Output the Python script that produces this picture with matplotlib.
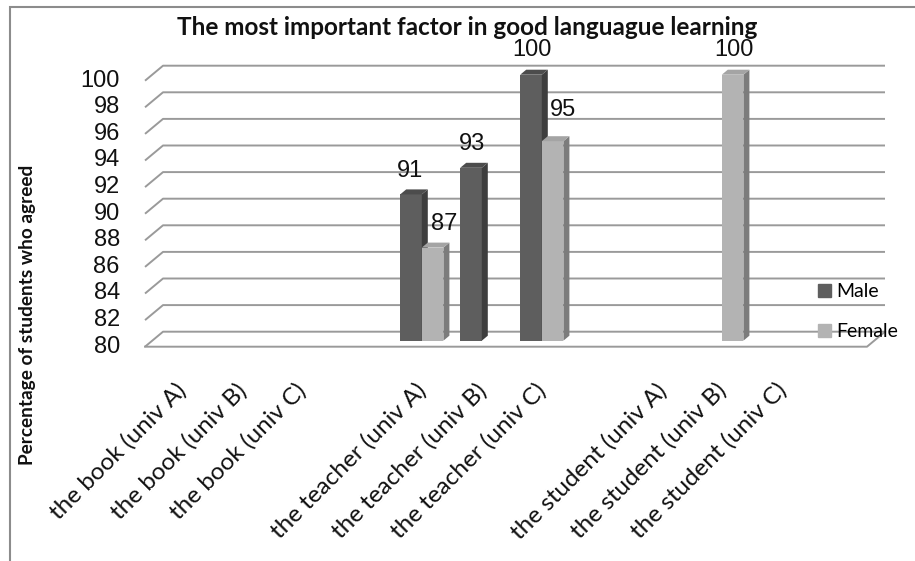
import numpy as np
import matplotlib
matplotlib.use("Agg")
import matplotlib.pyplot as plt
from matplotlib.patches import Polygon, Patch, Rectangle

# data
categories = ["the book (univ A)", "the book (univ B)", "the book (univ C)", "",
              "the teacher (univ A)", "the teacher (univ B)", "the teacher (univ C)", "",
              "the student (univ A)", "the student (univ B)", "the student (univ C)"]
male = [np.nan, np.nan, np.nan, np.nan, 91, 93, 100, np.nan, np.nan, np.nan, np.nan]
female = [np.nan, np.nan, np.nan, np.nan, 87, np.nan, 95, np.nan, np.nan, 100, np.nan]
yticks = list(range(80, 101, 2))
title = "The most important factor in good languague learning"
ylabel = "Percentage of students who agreed"

# label offsets (pixels) from the bar top, Excel style placement
male_lbl_off = {4: (-1, 23), 5: (1, 24), 6: (1, 25)}
female_lbl_off = {4: (12, 24), 6: (10, 31), 9: (1, 25)}

MALE = ("#5e5e5e", "#3e3e3e", "#4c4c4c")     # front, side, top
FEMALE = ("#b3b3b3", "#7c7c7c", "#a4a4a4")
GRID = "#9a9a9a"

fig = plt.figure(figsize=(9.15, 5.61), dpi=100)
ax = fig.add_axes([0, 0, 1, 1])
# 1 category = 60 px, 1 unit = 13.3 px
ax.set_xlim(-3.0, 12.25)
ax.set_ylim(100 - (561 - 74.7) / 13.3, 100 + 74.7 / 13.3)
ax.axis("off")

vmin, vmax = 80, 100
bx, bv = 0.18, 0.677      # back wall shift
fx, fv = -0.12, -0.451    # front edge shift
x_left, x_right = -0.463, 11.57

# walls / gridlines
for v in yticks:
    ax.plot([x_left + fx, x_left + bx, x_right + bx],
            [v + fv, v + bv, v + bv], color=GRID, lw=1.4, zorder=1,
            solid_capstyle="butt")
    ax.text(x_left - 0.54, v + fv, str(v), ha="right", va="center",
            fontsize=17, family="Liberation Sans", color="#111111")
# floor front edge
ax.plot([x_left + fx, x_right + fx, x_right + bx],
        [vmin + fv, vmin + fv, vmin + bv], color=GRID, lw=1.4, zorder=1)

# 3d bars
dx, dv = 0.1, 0.376
w = 0.36


def draw_bars(values, lefts, cols, z):
    fronts = ax.bar(lefts, np.array(values) - vmin, bottom=vmin, width=w,
                    align="edge", color=cols[0], zorder=z, linewidth=0)
    for rect, v in zip(fronts, values):
        if np.isnan(v):
            continue
        l = rect.get_x()
        r = l + rect.get_width()
        ax.add_patch(Polygon([(r, vmin), (r + dx, vmin + dv), (r + dx, v + dv), (r, v)],
                             closed=True, color=cols[1], zorder=z, lw=0))
        ax.add_patch(Polygon([(l, v), (r, v), (r + dx, v + dv), (l + dx, v + dv)],
                             closed=True, color=cols[2], zorder=z, lw=0))
    return fronts


idx = np.arange(len(categories))
draw_bars(male, idx - 0.33, MALE, 3)
draw_bars(female, idx + 0.03, FEMALE, 4)

# value labels
for i, (ox, oy) in male_lbl_off.items():
    ax.annotate(f"{male[i]:g}", (i - 0.33 + w / 2, male[i]), xytext=(ox * 0.72, oy * 0.72),
                textcoords="offset points", ha="center", va="center",
                fontsize=17, family="Liberation Sans", color="#111111", zorder=6)
for i, (ox, oy) in female_lbl_off.items():
    ax.annotate(f"{female[i]:g}", (i + 0.03 + w / 2, female[i]), xytext=(ox * 0.72, oy * 0.72),
                textcoords="offset points", ha="center", va="center",
                fontsize=17, family="Liberation Sans", color="#111111", zorder=6)

# category labels
for i, lab in enumerate(categories):
    if lab:
        ax.text(i - 0.08, 77.1, lab, rotation=45, rotation_mode="anchor",
                ha="right", va="top", fontsize=17.5, family="Lato", color="#111111")

# legend
handles = [Patch(color=MALE[0], label="Male"), Patch(color=FEMALE[0], label="Female")]
ax.legend(handles=handles, loc="upper left", bbox_to_anchor=(818 / 915, 1 - 283 / 561),
          frameon=False, prop={"family": "Lato", "size": 14}, handlelength=0.65,
          handleheight=0.65, handletextpad=0.3, labelspacing=1.2, borderpad=0,
          borderaxespad=0)

fig.text(467 / 915, 1 - 35 / 561, title, ha="center", va="baseline",
         fontsize=17.5, fontweight="bold", family="Lato", color="#111111")
fig.text(28 / 915, 1 - 315 / 561, ylabel, rotation=90, ha="center", va="center",
         fontsize=13.7, fontweight="bold", family="Lato", color="#111111")

# chart area border
fig.patches.append(Rectangle((10 / 915, -0.05), 1.2, 1 - 7 / 561 + 0.05,
                             transform=fig.transFigure, fill=False,
                             edgecolor="#8c8c8c", lw=1.5))

fig.savefig("out.png", dpi=100)
